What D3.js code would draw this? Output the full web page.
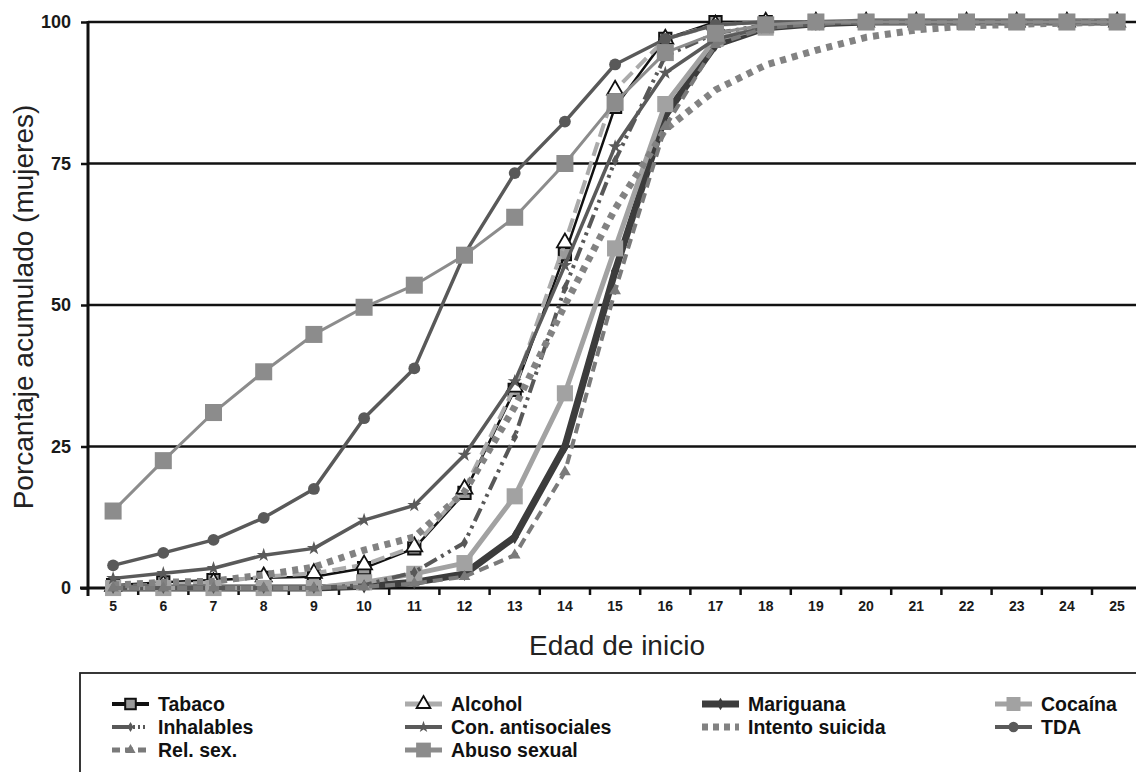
<!DOCTYPE html>
<html><head><meta charset="utf-8">
<script src="https://cdn.jsdelivr.net/npm/d3@7"></script>
<style>body{margin:0;background:#fff;}svg{display:block;font-family:"Liberation Sans",Arial,sans-serif;}</style>
</head><body><svg id="c" width="1136" height="772"></svg>
<script>
const ages = [5,6,7,8,9,10,11,12,13,14,15,16,17,18,19,20,21,22,23,24,25];
const yTicks = [0,25,50,75,100];
const seriesNames = ["Tabaco","Alcohol","Mariguana","Cocaína","Inhalables","Con. antisociales","Intento suicida","TDA","Rel. sex.","Abuso sexual"];
const tabaco      = [0.5,1,1.4,1.8,2,3.5,7,16.8,35,59,85,97,100,100,100,100,100,100,100,100,100];
const alcohol     = [0.3,0.6,1,2,2.6,4.1,7.3,17.5,35.5,61,88,97,99.5,100,100,100,100,100,100,100,100];
const mariguana   = [0,0,0,0,0,0.3,1,2.5,9,25,56,83.5,96,99,99.7,100,100,100,100,100,100];
const cocaina     = [0,0,0,0,0,1,2.5,4.4,16.2,34.4,60,85.5,97,99,100,100,100,100,100,100,100];
const inhalables  = [0,0,0,0,0,0.5,2.8,8,26.7,53,75.5,94,98,99.5,100,100,100,100,100,100,100];
const antisociales= [1.7,2.6,3.5,5.8,7,12,14.6,23.5,36.5,57,78,91,97,99,99.5,100,100,100,100,100,100];
const suicida     = [0.5,1,1.2,2.3,3.7,6.7,9,17,32,50,67,81,88,92.4,95,97.3,98.6,99.3,99.6,99.8,100];
const tda         = [4,6.2,8.5,12.4,17.5,30,38.8,59,73.3,82.4,92.5,97,99.5,100,100,100,100,100,100,100,100];
const relsex      = [0,0,0,0,0,0.2,0.8,2,5.8,20.5,52.5,81.5,96,99,99.7,100,100,100,100,100,100];
const abuso       = [13.6,22.5,31,38.2,44.8,49.6,53.5,58.8,65.5,75,85.8,94.6,98,99.5,100,100,100,100,100,100,100];
const seriesValues = [tabaco,alcohol,mariguana,cocaina,inhalables,antisociales,suicida,tda,relsex,abuso];

const styles = [
  {stroke:"#111", w:2.5, lw:4, dash:null, sym:d3.symbolSquare, size:150, fill:"#9a9a9a", mstroke:"#111", mw:2},
  {stroke:"#ababab", w:4, lw:5, dash:"14,6", ldash:null, sym:d3.symbolTriangle, size:110, fill:"#fff", mstroke:"#111", mw:1.8},
  {stroke:"#3c3c3c", w:7, lw:7, dash:null, sym:d3.symbolDiamond, size:60, fill:"#3c3c3c", mstroke:"none", mw:0},
  {stroke:"#a2a2a2", w:5, lw:5, dash:null, sym:d3.symbolSquare, size:260, fill:"#a2a2a2", mstroke:"none", mw:0},
  {stroke:"#585858", w:4, lw:4, dash:"14,5,3,5,3,5", ldash:"18,3,2,3,2,3,2", sym:d3.symbolDiamond, size:40, fill:"#585858", mstroke:"none", mw:0},
  {stroke:"#5a5a5a", w:3.5, lw:4, dash:null, sym:d3.symbolStar, size:60, fill:"#5a5a5a", mstroke:"none", mw:0},
  {stroke:"#828282", w:7, lw:7, dash:"6,6", ldash:"6,5", sym:null},
  {stroke:"#595959", w:3.5, lw:4, dash:null, sym:d3.symbolCircle, size:110, fill:"#595959", mstroke:"none", mw:0},
  {stroke:"#7a7a7a", w:4, lw:5, dash:"10,6", ldash:"8,5", sym:d3.symbolTriangle, size:60, fill:"#7a7a7a", mstroke:"none", mw:0},
  {stroke:"#8c8c8c", w:3, lw:5, dash:null, sym:d3.symbolSquare, size:290, fill:"#8c8c8c", mstroke:"none", mw:0}
];

const svg = d3.select("#c");
const pL = 88, pT = 22, pB = 588, pR = 88 + 21*50.2;
const x = d3.scaleBand().domain(ages).range([pL,pR]);
const y = d3.scaleLinear().domain([0,100]).range([pB,pT]);
const cx = a => x(a) + x.bandwidth()/2;

// gridlines
svg.append("g").selectAll("line").data(yTicks.filter(d=>d>0)).join("line")
  .attr("x1",pL).attr("x2",pR).attr("y1",d=>y(d)).attr("y2",d=>y(d))
  .attr("stroke","#111").attr("stroke-width",2.5);

// y axis
const ya = svg.append("g").attr("transform",`translate(${pL},0)`)
  .call(d3.axisLeft(y).tickValues(yTicks).tickSize(7).tickFormat(d3.format("d")));
ya.select(".domain").remove();
ya.selectAll(".tick line").attr("stroke","#111").attr("stroke-width",2.5);
ya.selectAll(".tick text").attr("font-size",18).attr("font-weight","bold").attr("fill","#1a1a1a")
  .attr("font-family","Liberation Sans, Arial, sans-serif").attr("x",-17);
svg.append("line").attr("x1",pL).attr("x2",pL).attr("y1",pT-1).attr("y2",pB+8)
  .attr("stroke","#111").attr("stroke-width",3);

// x axis
svg.append("line").attr("x1",pL-8).attr("x2",pR).attr("y1",pB).attr("y2",pB)
  .attr("stroke","#111").attr("stroke-width",3);
const xa = svg.append("g").attr("transform",`translate(0,${pB})`)
  .call(d3.axisBottom(x).tickSize(0).tickPadding(13));
xa.select(".domain").remove();
xa.selectAll(".tick text").attr("font-size",14).attr("font-weight","bold").attr("fill","#1a1a1a")
  .attr("font-family","Liberation Sans, Arial, sans-serif");
svg.append("g").selectAll("line").data(ages.slice(1)).join("line")
  .attr("x1",d=>x(d)).attr("x2",d=>x(d)).attr("y1",pB).attr("y2",pB+7)
  .attr("stroke","#111").attr("stroke-width",2.5);

// titles
svg.append("text").attr("transform",`translate(33,307) rotate(-90)`).attr("text-anchor","middle")
  .attr("font-size",28).attr("fill","#222").text("Porcantaje acumulado (mujeres)");
svg.append("text").attr("x",617).attr("y",655).attr("text-anchor","middle")
  .attr("font-size",28).attr("fill","#222").text("Edad de inicio");

// series
const line = d3.line().x((d,i)=>cx(ages[i])).y(d=>y(d));
seriesValues.forEach((vals,k)=>{
  const s = styles[k];
  const g = svg.append("g");
  g.append("path").datum(vals).attr("d",line).attr("fill","none")
    .attr("stroke",s.stroke).attr("stroke-width",s.w).attr("stroke-dasharray",s.dash)
    .attr("stroke-linejoin","round");
  if (s.sym) {
    g.selectAll("path.m").data(vals).join("path").attr("class","m")
      .attr("d",d3.symbol().type(s.sym).size(s.size))
      .attr("transform",(d,i)=>`translate(${cx(ages[i])},${y(d)})`)
      .attr("fill",s.fill).attr("stroke",s.mstroke).attr("stroke-width",s.mw);
  }
});

// legend
svg.append("rect").attr("x",80).attr("y",673).attr("width",1100).attr("height",140)
  .attr("fill","none").attr("stroke","#222").attr("stroke-width",1.8);
const colX = [112,405,702,995];
const rowY = [704,727,750];
seriesNames.forEach((name,k)=>{
  const s = styles[k];
  const c = k%4, r = Math.floor(k/4);
  const gx = colX[c], gy = rowY[r];
  const g = svg.append("g");
  g.append("line").attr("x1",gx).attr("x2",gx+37).attr("y1",gy).attr("y2",gy)
    .attr("stroke",s.stroke).attr("stroke-width",s.lw)
    .attr("stroke-dasharray",s.ldash===undefined ? s.dash : s.ldash);
  if (s.sym) {
    g.append("path").attr("d",d3.symbol().type(s.sym).size(s.size*0.75))
      .attr("transform",`translate(${gx+18.5},${gy})`)
      .attr("fill",s.fill).attr("stroke",s.mstroke).attr("stroke-width",s.mw);
  }
  g.append("text").attr("x",gx+46).attr("y",gy+7).attr("font-size",19.5).attr("font-weight","bold")
    .attr("fill","#111").text(name);
});
</script></body></html>
